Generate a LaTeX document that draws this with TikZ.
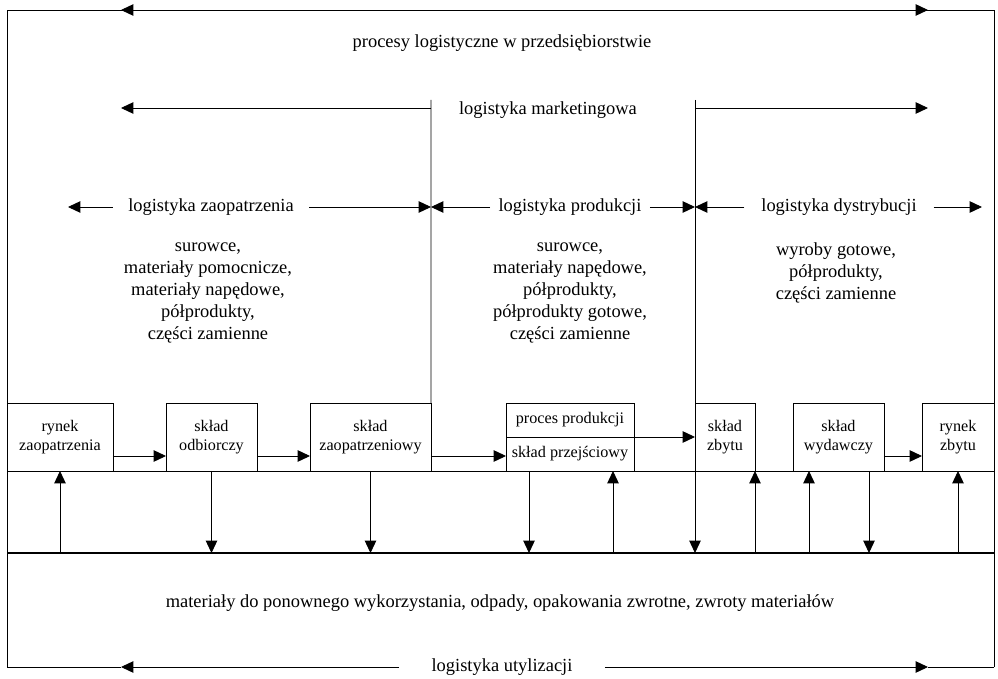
\documentclass[tikz,border=0pt]{standalone}
\usepackage{fontspec}
\setmainfont{Liberation Serif}
\usetikzlibrary{arrows.meta}

\tikzset{
  arr/.style={-{Triangle[length=7pt,width=6.5pt]}},
  twoarr/.style={{Triangle[length=7pt,width=6.5pt]}-{Triangle[length=7pt,width=6.5pt]}},
  box/.style={draw,rectangle,minimum height=1.36cm,inner sep=0pt,outer sep=0pt,
    align=center,font=\fontsize{9.2}{10.8}\selectfont},
  lbl/.style={inner sep=0pt,align=center,font=\fontsize{10.5}{12.6}\selectfont},
}

\begin{document}
\begin{tikzpicture}[x=0.02cm,y=-0.02cm,line width=0.5pt]
    \useasboundingbox (0,0) rectangle (998,679);

    % frame corners and arrow tips
    \coordinate (tl) at (7,10);
    \coordinate (tr) at (994,10);
    \coordinate (bl) at (7,667);
    \coordinate (br) at (994,667);
    \coordinate (t1) at (121,10);
    \coordinate (t2) at (928,10);
    \coordinate (ul) at (121,667);
    \coordinate (ur) at (928,667);
    \coordinate (gl) at (7,553);
    \coordinate (gr) at (994,553);
    \coordinate (fy) at (0,456);

    % marketing lines
    \coordinate (m1) at (431,100);
    \coordinate (m2) at (695,100);
    \coordinate (ml) at (121,108);
    \coordinate (mr) at (928,108);
    \coordinate (a1) at (68,207);
    \coordinate (a4) at (982,207);

    % ground arrows
    \coordinate (d1) at (529,553);
    \coordinate (u1) at (613,553);
    \coordinate (u2) at (809,553);
    \coordinate (d2) at (869,553);

    \draw (bl) -- (tl) -- (tr) -- (br);
    \draw [twoarr] (t1) -- (t2);
    \node [lbl] (proc) at (502,43) {procesy logistyczne w przedsiębiorstwie};

    % boxes
    \node [box,minimum width=2.12cm] (rz) at (60,437) {rynek\\zaopatrzenia};
    \node [box,minimum width=1.82cm] (odb) at (211.5,437) {skład\\odbiorczy};
    \node [box,minimum width=2.42cm] (zaop) at (370.5,437) {skład\\zaopatrzeniowy};
    \node [box,minimum width=2.56cm,minimum height=0.68cm] (pp) at (570,420) {proces produkcji};
    \node [box,minimum width=2.56cm,minimum height=0.68cm] (prz) at (570,454) {skład przejściowy};
    \node [box,minimum width=1.2cm] (zbyt) at (725,437) {skład\\zbytu};
    \node [box,minimum width=1.82cm] (wyd) at (838.5,437) {skład\\wydawczy};
    \node [box,minimum width=1.44cm] (rzb) at (958,437) {rynek\\zbytu};

    \draw (m1) -- (zaop.north east);
    \draw [arr] (m2) -- (m2 |- gl);
    \node [lbl] (mk) at (548,110) {logistyka marketingowa};
    \draw [arr] (m1 |- ml) -- (ml);
    \draw [arr] (m2 |- mr) -- (mr);

    \node [lbl,inner xsep=0.3cm] (lz) at (211,207) {logistyka zaopatrzenia};
    \node [lbl,inner xsep=0.16cm] (lp) at (570,207) {logistyka produkcji};
    \node [lbl,inner xsep=0.33cm] (ld) at (839,207) {logistyka dystrybucji};
    \draw [arr] (lz.west) -- (a1);
    \draw [arr] (lz.east) -- (m1 |- lz);
    \draw [arr] (lp.west) -- (m1 |- lp);
    \draw [arr] (lp.east) -- (m2 |- lp);
    \draw [arr] (ld.west) -- (m2 |- ld);
    \draw [arr] (ld.east) -- (a4);

    \node [lbl] (tz) at (208,293) {surowce,\\materiały pomocnicze,\\materiały napędowe,\\półprodukty,\\części zamienne};
    \node [lbl] (tp) at (570,293) {surowce,\\materiały napędowe,\\półprodukty,\\półprodukty gotowe,\\części zamienne};
    \node [lbl] (td) at (836,273) {wyroby gotowe,\\półprodukty,\\części zamienne};

    % flow between boxes
    \draw [arr] (rz.east |- fy) -- (odb.west |- fy);
    \draw [arr] (odb.east |- fy) -- (zaop.west |- fy);
    \draw [arr] (zaop.east |- fy) -- (prz.west |- fy);
    \draw [arr] (pp.south east) -- (zbyt.west |- pp.south);
    \draw [arr] (wyd.east |- fy) -- (rzb.west |- fy);
    \draw (bl |- rz.south) -- (br |- rz.south);

    % returns
    \draw [line width=1.6pt] (gl) -- (gr);
    \draw [arr] (rz.south |- gl) -- (rz.south);
    \draw [arr] (odb.south) -- (odb.south |- gl);
    \draw [arr] (zaop.south) -- (zaop.south |- gl);
    \draw [arr] (d1 |- prz.south) -- (d1);
    \draw [arr] (u1) -- (u1 |- prz.south);
    \draw [arr] (zbyt.south east |- gl) -- (zbyt.south east);
    \draw [arr] (u2) -- (u2 |- wyd.south);
    \draw [arr] (d2 |- wyd.south) -- (d2);
    \draw [arr] (rzb.south |- gl) -- (rzb.south);

    \node [lbl] (mat) at (500,603) {materiały do ponownego wykorzystania, odpady, opakowania zwrotne, zwroty materiałów};
    \node [lbl,inner xsep=0.64cm] (lu) at (502,667) {logistyka utylizacji};
    \draw [arr] (lu.west) -- (ul);
    \draw [arr] (lu.east) -- (ur);
    \draw (ul) -- (bl);
    \draw (ur) -- (br);
\end{tikzpicture}
\end{document}
